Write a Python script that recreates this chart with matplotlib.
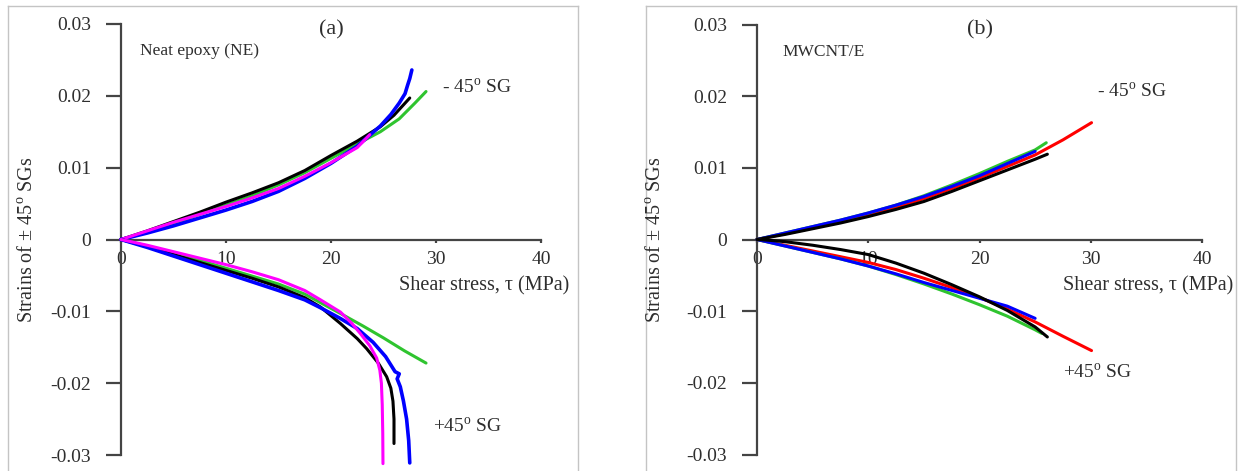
import matplotlib
matplotlib.use("Agg")
import matplotlib.pyplot as plt
from matplotlib.lines import Line2D

plt.rcParams['font.family'] = ['Liberation Serif', 'DejaVu Serif']
plt.rcParams['mathtext.fontset'] = 'custom'
plt.rcParams['mathtext.rm'] = 'Liberation Serif'

W, H = 1238, 471

x_ticks = [0, 10, 20, 30, 40]
x_tick_labels = ['0', '10', '20', '30', '40']
y_ticks = [-0.03, -0.02, -0.01, 0, 0.01, 0.02, 0.03]
y_tick_labels = ['-0.03', '-0.02', '-0.01', '0', '0.01', '0.02', '0.03']

# (a) neat epoxy, -45 deg gauge (positive strain)
a_neg_black_x = [0, 2.5, 5, 7.5, 10, 12.5, 15, 17.5, 20, 22.5, 24.7, 26, 27.5]
a_neg_black_y = [0, 0.0012, 0.0025, 0.0038, 0.0052, 0.0065, 0.0079, 0.0096, 0.0117, 0.0137, 0.0157, 0.0173, 0.0197]
a_neg_green_x = [0, 2.5, 5, 7.5, 10, 12.5, 15, 17.5, 20, 22.5, 24.7, 26.5, 28, 29.05]
a_neg_green_y = [0, 0.0010, 0.0022, 0.0035, 0.0048, 0.0061, 0.0076, 0.0093, 0.0113, 0.0133, 0.0150, 0.0168, 0.0190, 0.0206]
a_neg_blue_x = [0, 2.5, 5, 7.5, 10, 12.5, 15, 17.5, 20, 22.5, 24.7, 25.7, 26.5, 27.05, 27.3, 27.5, 27.7]
a_neg_blue_y = [0, 0.0009, 0.0019, 0.0030, 0.0041, 0.0053, 0.0067, 0.0085, 0.0106, 0.0130, 0.0158, 0.0174,
                0.0190, 0.0203, 0.0215, 0.0224, 0.0236]
a_neg_mag_x = [0, 2.5, 5, 7.5, 10, 12.5, 15, 17.5, 20, 22.5, 23.7]
a_neg_mag_y = [0, 0.0012, 0.0024, 0.0035, 0.0046, 0.0058, 0.0071, 0.0088, 0.0107, 0.0128, 0.0146]

# (a) neat epoxy, +45 deg gauge (negative strain)
a_pos_black_x = [0, 2.5, 5, 7.5, 10, 12.5, 15, 17.5, 19, 20.9, 22.5, 23.4, 24.5, 25.3, 25.7, 25.9, 26.0, 26.0]
a_pos_black_y = [0, -0.0010, -0.0021, -0.0032, -0.0043, -0.0054, -0.0066, -0.0081, -0.0094, -0.0117, -0.0138,
                 -0.0152, -0.0172, -0.0191, -0.0207, -0.0225, -0.0250, -0.0284]
a_pos_green_x = [0, 2.5, 5, 7.5, 10, 12.5, 15, 17.5, 19, 20.9, 23, 25, 27, 29.05]
a_pos_green_y = [0, -0.0009, -0.0019, -0.0029, -0.0040, -0.0051, -0.0062, -0.0076, -0.0088, -0.0103, -0.0120,
                 -0.0137, -0.0155, -0.0172]
a_pos_blue_x = [0, 2.5, 5, 7.5, 10, 12.5, 15, 17.5, 19, 20.9, 22.5, 24, 25.2, 26.1, 26.5, 26.3, 26.6, 26.9,
                27.2, 27.4, 27.5]
a_pos_blue_y = [0, -0.0011, -0.0023, -0.0035, -0.0047, -0.0059, -0.0071, -0.0084, -0.0095, -0.0110, -0.0124,
                -0.0143, -0.0163, -0.0184, -0.0187, -0.0194, -0.0205, -0.0225, -0.0250, -0.0280, -0.0311]
a_pos_mag_x = [0, 2.5, 5, 7.5, 10, 12.5, 15, 17.5, 19, 20.9, 22, 22.8, 23.7, 24.35, 24.65, 24.8, 24.88, 24.93, 24.95]
a_pos_mag_y = [0, -0.0008, -0.0017, -0.0026, -0.0035, -0.0045, -0.0056, -0.0071, -0.0084, -0.0101, -0.0117,
               -0.0131, -0.0148, -0.0165, -0.0182, -0.0200, -0.0230, -0.0270, -0.0312]

# (b) MWCNT/epoxy, -45 deg gauge
b_neg_red_x = [0, 2.5, 5, 7.5, 10, 12.5, 15, 17.5, 20, 22.5, 25, 27.5, 30.07]
b_neg_red_y = [0, 0.0008, 0.0016, 0.0025, 0.0034, 0.0045, 0.0057, 0.0071, 0.0086, 0.0102, 0.0118, 0.0139, 0.0163]
b_neg_green_x = [0, 2.5, 5, 7.5, 10, 12.5, 15, 17.5, 20, 22.5, 25, 26]
b_neg_green_y = [0, 0.0009, 0.0018, 0.0027, 0.0037, 0.0048, 0.0061, 0.0076, 0.0092, 0.0109, 0.0125, 0.0135]
b_neg_blue_x = [0, 2.5, 5, 7.5, 10, 12.5, 15, 17.5, 20, 22.5, 25]
b_neg_blue_y = [0, 0.0009, 0.0018, 0.0027, 0.0037, 0.0048, 0.0060, 0.0074, 0.0089, 0.0106, 0.0123]
b_neg_black_x = [0, 2.5, 5, 7.5, 10, 12.5, 15, 17.5, 20, 22.5, 25, 26.1]
b_neg_black_y = [0, 0.0007, 0.0015, 0.0023, 0.0032, 0.0042, 0.0053, 0.0067, 0.0082, 0.0097, 0.0112, 0.0119]

# (b) MWCNT/epoxy, +45 deg gauge
b_pos_red_x = [0, 2.5, 5, 7.5, 10, 12.5, 15, 17.5, 20, 22.5, 25, 27.5, 30.07]
b_pos_red_y = [0, -0.0008, -0.0016, -0.0024, -0.0032, -0.0042, -0.0054, -0.0067, -0.0081, -0.0097, -0.0115,
               -0.0135, -0.0155]
b_pos_green_x = [0, 2.5, 5, 7.5, 10, 12.5, 15, 17.5, 20, 22.5, 25, 25.6]
b_pos_green_y = [0, -0.0009, -0.0018, -0.0027, -0.0037, -0.0049, -0.0062, -0.0076, -0.0091, -0.0107, -0.0126, -0.0131]
b_pos_blue_x = [0, 2.5, 5, 7.5, 10, 12.5, 15, 17.5, 20, 22.5, 25]
b_pos_blue_y = [0, -0.0009, -0.0018, -0.0027, -0.0037, -0.0048, -0.0060, -0.0071, -0.0082, -0.0093, -0.0110]
b_pos_black_x = [0, 1, 2.5, 5, 7.5, 10, 12.5, 15, 17.5, 20, 22.5, 25, 26.1]
b_pos_black_y = [0, -0.0001, -0.0003, -0.0008, -0.0014, -0.0021, -0.0033, -0.0047, -0.0063, -0.0080, -0.0099,
                 -0.0122, -0.0136]

BLACK = '#000000'
GREEN = '#2fc42f'
BLUE = '#0000ff'
MAGENTA = '#ff00ff'
RED = '#ff0000'
TXT = '#2e2e2e'
AXC = '#444444'

fig = plt.figure(figsize=(W / 100, H / 100), dpi=100)


def px_axes(x0, x1, ytop, ybot):
    return fig.add_axes([x0 / W, (H - ybot) / H, (x1 - x0) / W, (ybot - ytop) / H])


def frame(x0, x1, ytop):
    kw = dict(color='#c4c4c4', lw=1.0, transform=fig.transFigure)
    fig.add_artist(Line2D([x0 / W, x1 / W], [1 - ytop / H, 1 - ytop / H], **kw))
    fig.add_artist(Line2D([x0 / W, x0 / W], [1 - ytop / H, 0], **kw))
    fig.add_artist(Line2D([x1 / W, x1 / W], [1 - ytop / H, 0], **kw))


def style(ax):
    ax.set_xlim(0, 40)
    ax.set_ylim(-0.03, 0.03)
    ax.patch.set_alpha(0)
    for s in ['top', 'right']:
        ax.spines[s].set_visible(False)
    ax.spines['bottom'].set_position(('data', 0))
    for s in ['left', 'bottom']:
        ax.spines[s].set_color(AXC)
        ax.spines[s].set_linewidth(1.6)
    ax.set_xticks(x_ticks)
    ax.set_xticklabels(x_tick_labels)
    ax.set_yticks(y_ticks)
    ax.set_yticklabels(y_tick_labels)
    ax.tick_params(axis='y', direction='out', length=10.5, width=1.6, color=AXC,
                   labelsize=14, labelcolor=TXT, pad=11)
    ax.tick_params(axis='x', direction='out', length=2.5, width=1.6, color=AXC,
                   labelsize=14, labelcolor=TXT, pad=6)


def curve(ax, x, y, c, lw=2.2):
    ax.plot(x, y, color=c, lw=lw, clip_on=False, solid_capstyle='round',
            solid_joinstyle='round', zorder=3)


def sg(v):
    return v + r'45$^{\mathrm{o}}$ SG'


# ---- panel (a)
frame(8, 578, 6)
ax1 = px_axes(121, 541, 24, 455)
style(ax1)
curve(ax1, a_neg_green_x, a_neg_green_y, GREEN)
curve(ax1, a_neg_black_x, a_neg_black_y, BLACK)
curve(ax1, a_neg_blue_x, a_neg_blue_y, BLUE, 2.6)
curve(ax1, a_neg_mag_x, a_neg_mag_y, MAGENTA)
curve(ax1, a_pos_green_x, a_pos_green_y, GREEN)
curve(ax1, a_pos_black_x, a_pos_black_y, BLACK)
curve(ax1, a_pos_blue_x, a_pos_blue_y, BLUE, 2.6)
curve(ax1, a_pos_mag_x, a_pos_mag_y, MAGENTA)

ax1.text(20, 0.0292, '(a)', ha='center', va='center', fontsize=16, color=TXT)
ax1.text(1.8, 0.0263, 'Neat epoxy (NE)', ha='left', va='center', fontsize=12.5, color=TXT)
ax1.text(30.6, 0.0211, sg('- '), ha='left', va='center', fontsize=14, color=TXT)
ax1.text(29.7, -0.0261, sg('+'), ha='left', va='center', fontsize=14, color=TXT)
ax1.text(42.7, -0.0065, 'Shear stress, τ (MPa)', ha='right', va='center', fontsize=14.5,
         color=TXT, clip_on=False)
fig.text(28 / W, 1 - 240 / H, r'Strains of ± 45$^{\mathrm{o}}$ SGs', rotation=90,
         ha='center', va='center', fontsize=14.5, color=TXT)

# ---- panel (b)
frame(646, 1236, 6)
ax2 = px_axes(757, 1202, 24.5, 454.5)
style(ax2)
curve(ax2, b_neg_red_x, b_neg_red_y, RED)
curve(ax2, b_neg_green_x, b_neg_green_y, GREEN)
curve(ax2, b_neg_blue_x, b_neg_blue_y, BLUE)
curve(ax2, b_neg_black_x, b_neg_black_y, BLACK)
curve(ax2, b_pos_red_x, b_pos_red_y, RED)
curve(ax2, b_pos_green_x, b_pos_green_y, GREEN)
curve(ax2, b_pos_blue_x, b_pos_blue_y, BLUE)
curve(ax2, b_pos_black_x, b_pos_black_y, BLACK)

ax2.text(20, 0.0292, '(b)', ha='center', va='center', fontsize=16, color=TXT)
ax2.text(2.3, 0.0261, 'MWCNT/E', ha='left', va='center', fontsize=12.5, color=TXT)
ax2.text(30.6, 0.0206, sg('- '), ha='left', va='center', fontsize=14, color=TXT)
ax2.text(27.5, -0.0186, sg('+'), ha='left', va='center', fontsize=14, color=TXT)
ax2.text(42.8, -0.0064, 'Shear stress, τ (MPa)', ha='right', va='center', fontsize=14.5,
         color=TXT, clip_on=False)
fig.text(656 / W, 1 - 240 / H, r'Strains of ± 45$^{\mathrm{o}}$ SGs', rotation=90,
         ha='center', va='center', fontsize=14.5, color=TXT)

fig.savefig('out.png', dpi=100)
